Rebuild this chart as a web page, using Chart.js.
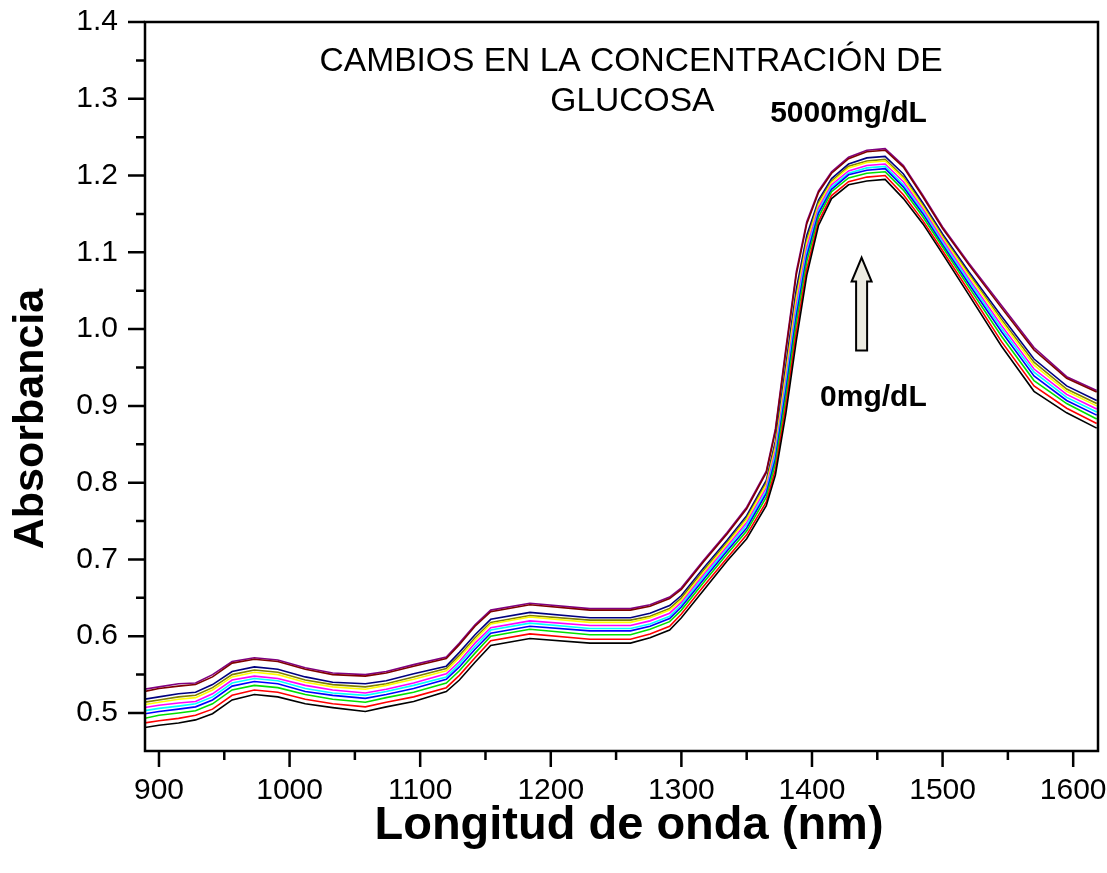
<!DOCTYPE html>
<html>
<head>
<meta charset="utf-8">
<script src="https://cdn.jsdelivr.net/npm/chart.js@4.4.1/dist/chart.umd.min.js"></script>
<style>
  html, body { margin: 0; padding: 0; background: #fff; }
  #wrap { width: 1107px; height: 873px; }
</style>
</head>
<body>
<div id="wrap"><canvas id="spectra" width="1107" height="873"></canvas></div>
<script>
// wavelength (nm) shared by every spectrum
const wavelengths = [889, 900, 915, 928, 941, 956, 973, 991, 1012, 1033, 1058, 1074, 1095, 1120, 1130, 1142, 1154, 1184, 1230, 1261, 1276, 1291, 1300, 1317, 1335, 1350, 1365, 1372, 1380, 1388, 1396, 1405, 1415, 1428, 1442, 1456, 1470, 1485, 1500, 1520, 1545, 1570, 1595, 1618];

// spectra, lowest (0 mg/dL) to highest (5000 mg/dL)
const black   = [.481,.484,.487,.491,.499,.517,.524,.521,.512,.507,.502,.508,.515,.528,.543,.566,.588,.597,.591,.591,.598,.608,.624,.660,.698,.727,.770,.810,.890,.985,1.070,1.135,1.170,1.188,1.193,1.195,1.170,1.137,1.098,1.045,.978,.919,.891,.871];
const red     = [.487,.490,.493,.497,.505,.523,.530,.527,.518,.512,.508,.514,.521,.533,.549,.572,.594,.603,.596,.596,.603,.613,.629,.665,.702,.732,.775,.817,.900,.996,1.078,1.140,1.174,1.192,1.198,1.200,1.175,1.141,1.102,1.050,.984,.926,.897,.877];
const green   = [.493,.497,.500,.503,.512,.530,.536,.533,.524,.518,.514,.520,.527,.539,.555,.578,.600,.609,.602,.602,.609,.619,.634,.670,.707,.737,.781,.825,.911,1.008,1.088,1.146,1.179,1.197,1.203,1.205,1.181,1.146,1.107,1.055,.991,.933,.903,.883];
const blue    = [.499,.502,.505,.508,.517,.535,.541,.538,.528,.523,.519,.524,.532,.544,.560,.583,.604,.613,.607,.607,.613,.623,.638,.674,.711,.741,.786,.831,.920,1.017,1.095,1.151,1.182,1.201,1.207,1.209,1.185,1.150,1.110,1.059,.997,.939,.907,.888];
const cyan    = [.503,.506,.509,.512,.521,.539,.545,.542,.532,.526,.523,.528,.536,.547,.564,.587,.608,.617,.610,.610,.616,.626,.641,.677,.714,.745,.789,.836,.927,1.024,1.100,1.154,1.185,1.203,1.210,1.212,1.188,1.153,1.113,1.063,1.001,.944,.911,.892];
const magenta = [.507,.510,.513,.515,.525,.543,.548,.545,.536,.530,.526,.531,.539,.551,.567,.591,.611,.620,.614,.614,.620,.630,.644,.680,.717,.748,.793,.841,.933,1.031,1.106,1.158,1.188,1.206,1.213,1.215,1.192,1.156,1.116,1.066,1.005,.948,.915,.896];
const yellow  = [.511,.514,.518,.520,.530,.547,.553,.550,.540,.534,.531,.536,.544,.555,.572,.595,.616,.625,.618,.618,.624,.634,.647,.683,.720,.752,.797,.846,.941,1.039,1.112,1.162,1.191,1.210,1.217,1.219,1.196,1.159,1.119,1.070,1.010,.953,.919,.900];
const olive   = [.514,.517,.521,.523,.533,.550,.556,.553,.543,.537,.534,.538,.547,.558,.575,.598,.618,.627,.621,.621,.626,.636,.650,.686,.722,.754,.800,.850,.946,1.044,1.116,1.165,1.193,1.212,1.219,1.221,1.198,1.161,1.121,1.072,1.013,.957,.922,.903];
const navy    = [.518,.521,.525,.527,.537,.554,.560,.557,.547,.540,.538,.542,.551,.561,.579,.602,.622,.631,.624,.624,.630,.640,.653,.689,.725,.757,.803,.854,.953,1.052,1.122,1.168,1.196,1.215,1.223,1.225,1.202,1.164,1.124,1.075,1.017,.961,.926,.907];
const maroon  = [.528,.532,.535,.537,.547,.565,.570,.567,.557,.550,.548,.552,.561,.571,.589,.613,.632,.641,.634,.634,.639,.649,.661,.697,.733,.766,.813,.867,.971,1.071,1.137,1.178,1.203,1.222,1.231,1.233,1.211,1.172,1.131,1.084,1.028,.973,.936,.918];
const purple  = [.531,.534,.538,.539,.550,.567,.572,.569,.559,.552,.550,.554,.563,.573,.591,.615,.634,.643,.636,.636,.641,.651,.663,.699,.735,.768,.815,.870,.975,1.075,1.140,1.180,1.205,1.224,1.233,1.235,1.213,1.174,1.133,1.086,1.031,.976,.938,.920];

const xTicks = [900, 1000, 1100, 1200, 1300, 1400, 1500, 1600];
const xMinor = [950, 1050, 1150, 1250, 1350, 1450, 1550];
const yTicks = [0.5, 0.6, 0.7, 0.8, 0.9, 1.0, 1.1, 1.2, 1.3, 1.4];
const yMinor = [0.55, 0.65, 0.75, 0.85, 0.95, 1.05, 1.15, 1.25, 1.35];

const FONT = "'Liberation Sans', Arial, Helvetica, sans-serif";

const spectra = [
  [black, "#000000"], [red, "#ff0000"], [green, "#00e000"], [blue, "#0000ff"],
  [cyan, "#00ffff"], [magenta, "#ff00ff"], [yellow, "#ffff00"], [olive, "#808000"],
  [navy, "#000080"], [maroon, "#800000"], [purple, "#800080"]
];

const datasets = spectra.map(([vals, color]) => ({
  data: wavelengths.map((w, i) => ({ x: w, y: vals[i] })),
  borderColor: color,
  borderWidth: 1.6,
  pointRadius: 0,
  tension: 0,
  fill: false,
}));

// frame, outward major/minor ticks, axis titles, notes and the arrow
const frameAndNotes = {
  id: "frameAndNotes",
  afterDraw(chart) {
    const { ctx, chartArea: a, scales: { x, y } } = chart;
    ctx.save();
    ctx.strokeStyle = "#000";
    ctx.lineWidth = 2.5;
    ctx.strokeRect(a.left, a.top, a.right - a.left, a.bottom - a.top);

    ctx.beginPath();
    yTicks.forEach(v => { const p = y.getPixelForValue(v); ctx.moveTo(a.left, p); ctx.lineTo(a.left - 17, p); });
    yMinor.forEach(v => { const p = y.getPixelForValue(v); ctx.moveTo(a.left, p); ctx.lineTo(a.left - 9, p); });
    xTicks.forEach(v => { const p = x.getPixelForValue(v); ctx.moveTo(p, a.bottom); ctx.lineTo(p, a.bottom + 16); });
    xMinor.forEach(v => { const p = x.getPixelForValue(v); ctx.moveTo(p, a.bottom); ctx.lineTo(p, a.bottom + 9); });
    ctx.stroke();

    ctx.fillStyle = "#000";
    ctx.textAlign = "center";
    ctx.textBaseline = "middle";

    // axis titles (sit a little off the plot centre in the original)
    ctx.font = "bold 47px " + FONT;
    ctx.fillText("Longitud de onda (nm)", 629, 826);
    ctx.save();
    ctx.translate(31, 419);
    ctx.rotate(-Math.PI / 2);
    ctx.font = "bold 43px " + FONT;
    ctx.fillText("Absorbancia", 0, 0);
    ctx.restore();

    ctx.font = "33.6px " + FONT;
    ctx.fillText("CAMBIOS EN LA CONCENTRACIÓN DE", x.getPixelForValue(1261.5), y.getPixelForValue(1.348));
    ctx.fillText("GLUCOSA", x.getPixelForValue(1262.5), y.getPixelForValue(1.296));
    ctx.font = "bold 30px " + FONT;
    ctx.fillText("5000mg/dL", x.getPixelForValue(1428), y.getPixelForValue(1.281));
    ctx.fillText("0mg/dL", x.getPixelForValue(1447), y.getPixelForValue(0.910));

    // up arrow
    const cx = x.getPixelForValue(1438);
    const tip = y.getPixelForValue(1.093);
    const neck = y.getPixelForValue(1.062);
    const foot = y.getPixelForValue(0.972);
    ctx.beginPath();
    ctx.moveTo(cx, tip);
    ctx.lineTo(cx + 10, neck);
    ctx.lineTo(cx + 5.5, neck);
    ctx.lineTo(cx + 5.5, foot);
    ctx.lineTo(cx - 5.5, foot);
    ctx.lineTo(cx - 5.5, neck);
    ctx.lineTo(cx - 10, neck);
    ctx.closePath();
    ctx.fillStyle = "#ecebe1";
    ctx.fill();
    ctx.lineWidth = 2;
    ctx.stroke();
    ctx.restore();
  }
};

const chart = new Chart(document.getElementById("spectra"), {
  type: "line",
  data: { datasets: datasets },
  plugins: [frameAndNotes],
  options: {
    responsive: false,
    animation: false,
    layout: { padding: { top: 22, right: 9, left: 0, bottom: 0 } },
    plugins: { legend: { display: false }, tooltip: { enabled: false } },
    scales: {
      x: {
        type: "linear",
        min: 889.3,
        max: 1619,
        grid: { display: false },
        border: { display: false },
        afterBuildTicks: s => { s.ticks = xTicks.map(v => ({ value: v })); },
        afterFit: s => { s.height = 122; s.paddingLeft = 0; s.paddingRight = 0; },
        ticks: { color: "#000", font: { size: 30, family: FONT }, padding: 14, maxRotation: 0, autoSkip: false, callback: v => String(v) },
        title: { display: false }
      },
      y: {
        min: 0.4505,
        max: 1.4,
        grid: { display: false },
        border: { display: false },
        afterBuildTicks: s => { s.ticks = yTicks.map(v => ({ value: v })); },
        afterFit: s => { s.width = 145; s.paddingTop = 0; s.paddingBottom = 0; },
        ticks: { color: "#000", font: { size: 30, family: FONT }, padding: 19, callback: v => v.toFixed(1) },
        title: { display: false }
      }
    }
  }
});
</script>
</body>
</html>
